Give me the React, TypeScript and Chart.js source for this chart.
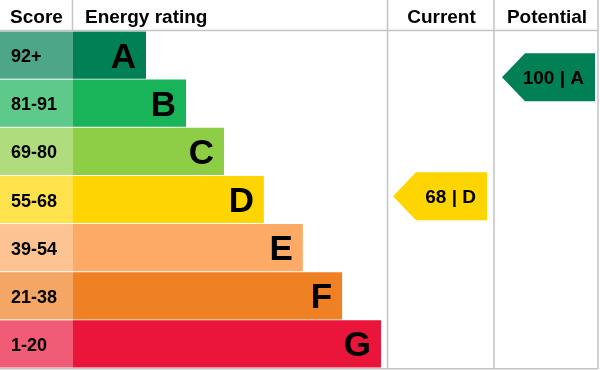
import React, { useEffect, useRef } from "react";
import { Chart, registerables } from "chart.js";

Chart.register(...registerables);

const ratings = ["A", "B", "C", "D", "E", "F", "G"];
const scoreRanges = ["92+", "81-91", "69-80", "55-68", "39-54", "21-38", "1-20"];
const barLengths = [23.25, 36.0, 48.1, 60.8, 73.2, 85.7, 98.1];
const barColors = ["#008054", "#19b459", "#8dce46", "#ffd500", "#fcaa65", "#ef8023", "#e9153b"];
const headers = ["Score", "Energy rating", "Current", "Potential"];
const currentScore = 68;
const currentRating = "D";
const potentialScore = 100;
const potentialRating = "A";

const FONT = "'Liberation Sans', Arial, Helvetica, sans-serif";
const LINE = "#c4c4c4";
const CUR_W = 107;
const POT_W = 104;

function drawArrow(ctx: CanvasRenderingContext2D, left: number, right: number, cy: number, color: string, text: string) {
  const h = 48;
  const tip = 23;
  ctx.beginPath();
  ctx.moveTo(left, cy);
  ctx.lineTo(left + tip, cy - h / 2);
  ctx.lineTo(right, cy - h / 2);
  ctx.lineTo(right, cy + h / 2);
  ctx.lineTo(left + tip, cy + h / 2);
  ctx.closePath();
  ctx.fillStyle = color;
  ctx.fill();
  ctx.fillStyle = "#000";
  ctx.font = `bold 19px ${FONT}`;
  ctx.textAlign = "right";
  ctx.textBaseline = "alphabetic";
  ctx.fillText(text, right - 11, cy + 7);
}

const epcPlugin = {
  id: "epc",
  afterDatasetsDraw(chart: any) {
    const { ctx, chartArea } = chart;
    const meta = chart.getDatasetMeta(0);
    const yScore = chart.scales.score;
    const curLeft = chartArea.right;
    const curRight = curLeft + CUR_W;
    const potRight = curRight + POT_W;
    ctx.save();
    ctx.textBaseline = "alphabetic";
    meta.data.forEach((bar: any, i: number) => {
      const top = bar.y - bar.height / 2;
      ctx.globalAlpha = 0.7;
      ctx.fillStyle = barColors[i];
      ctx.fillRect(0, top, chartArea.left, bar.height);
      ctx.globalAlpha = 1;
      ctx.fillStyle = "#000";
      ctx.font = `bold 18px ${FONT}`;
      ctx.textAlign = "left";
      ctx.fillText(scoreRanges[i], 11, bar.y + 7);
      ctx.font = `bold 35px ${FONT}`;
      ctx.textAlign = "right";
      ctx.fillText(ratings[i], bar.x - 10, bar.y + 12.5);
    });

    // grid lines
    ctx.strokeStyle = LINE;
    ctx.lineWidth = 1.5;
    ctx.beginPath();
    ctx.moveTo(0, chartArea.top - 0.5);
    ctx.lineTo(potRight, chartArea.top - 0.5);
    ctx.moveTo(chartArea.left - 0.5, 0);
    ctx.lineTo(chartArea.left - 0.5, chartArea.top);
    ctx.moveTo(curLeft + 0.5, 0);
    ctx.lineTo(curLeft + 0.5, chartArea.bottom + 1);
    ctx.moveTo(curRight, 0);
    ctx.lineTo(curRight, chartArea.bottom + 1);
    ctx.moveTo(potRight, 0);
    ctx.lineTo(potRight, chartArea.bottom + 1);
    ctx.moveTo(0, chartArea.bottom + 0.75);
    ctx.lineTo(potRight, chartArea.bottom + 0.75);
    ctx.stroke();

    // headers
    ctx.fillStyle = "#000";
    ctx.font = `bold 19px ${FONT}`;
    ctx.textAlign = "center";
    ctx.fillText(headers[0], chartArea.left / 2, 23);
    ctx.textAlign = "left";
    ctx.fillText(headers[1], chartArea.left + 12, 23);
    ctx.textAlign = "center";
    ctx.fillText(headers[2], (curLeft + curRight) / 2 + 1, 23);
    ctx.fillText(headers[3], (curRight + potRight) / 2 + 1, 23);

    // arrows
    const curIdx = ratings.indexOf(currentRating);
    const potIdx = ratings.indexOf(potentialRating);
    drawArrow(ctx, curLeft + 6, curRight - 7, yScore.getPixelForValue(currentScore), barColors[curIdx], `${currentScore} | ${currentRating}`);
    drawArrow(ctx, curRight + 8, potRight - 3, yScore.getPixelForValue(potentialScore), barColors[potIdx], `${potentialScore} | ${potentialRating}`);
    ctx.restore();
  },
};

export default function App() {
  const ref = useRef<HTMLCanvasElement | null>(null);
  useEffect(() => {
    if (!ref.current) return;
    const chart = new Chart(ref.current, {
      type: "bar",
      data: {
        labels: ratings,
        datasets: [
          {
            data: barLengths,
            backgroundColor: barColors,
            borderWidth: 0,
            barPercentage: 0.98,
            categoryPercentage: 1,
          },
        ],
      },
      options: {
        indexAxis: "y",
        animation: false,
        responsive: false,
        maintainAspectRatio: false,
        layout: { padding: { left: 73, top: 31, right: 213, bottom: 2 } },
        plugins: { legend: { display: false }, tooltip: { enabled: false } },
        scales: {
          x: { type: "linear", min: 0, max: 100, display: false },
          y: { type: "category", display: false, offset: true },
          score: { type: "linear", axis: "y", position: "right", min: 26.9, max: 107.4, display: false },
        },
      },
      plugins: [epcPlugin],
    } as any);
    return () => chart.destroy();
  }, []);
  return (
    <div style={{ position: "fixed", left: 0, top: 0, width: 600, height: 370, background: "#fff" }}>
      <canvas ref={ref} width={600} height={370} style={{ width: 600, height: 370, display: "block" }} />
    </div>
  );
}
